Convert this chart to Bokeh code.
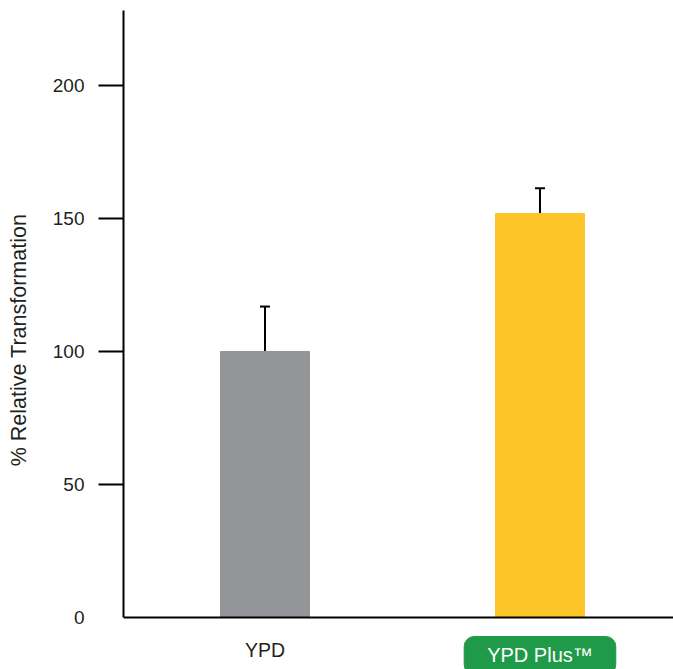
from bokeh.plotting import figure
from bokeh.models import ColumnDataSource, FixedTicker, Whisker, TeeHead, Label, Range1d, Span
from bokeh.embed import file_html
from bokeh.resources import INLINE

# ---- data ----
categories = ["YPD", "YPD Plus\u2122"]
positions = [0, 1]
values = [100.0, 151.9]
errors = [16.9, 9.5]
bar_colors = ["#939598", "#FDC527"]
y_ticks = [0, 50, 100, 150, 200]
y_tick_marks = [50, 100, 150, 200]

FONT = "Liberation Sans"
TXT = "#231F20"

src = ColumnDataSource(dict(
    x=positions,
    top=values,
    upper=[v + e for v, e in zip(values, errors)],
    color=bar_colors,
))

p = figure(width=673, height=669, output_backend="svg", toolbar_location=None,
           x_axis_type=None,
           x_range=Range1d(-0.5145, 1.4855), y_range=Range1d(-19.55, 228.2),
           min_border_left=123, min_border_top=10, min_border_bottom=0, min_border_right=0)
p.outline_line_color = None
p.xgrid.visible = False
p.ygrid.visible = False
p.background_fill_color = "white"

p.vbar(x="x", top="top", bottom=0, width=0.3236, color="color", source=src)

w = Whisker(source=src, base="x", lower="top", upper="upper", dimension="height",
            line_width=2, line_color="black",
            upper_head=TeeHead(size=10, line_width=2, line_color="black"), lower_head=None)
p.add_layout(w)

# x axis baseline
p.add_layout(Span(location=0, dimension="width", line_width=2, line_color="black"))

# y axis: labels from major ticks, tick marks from minor ticks (no mark at 0)
ya = p.yaxis[0]
ya.bounds = (0, p.y_range.end)
ya.ticker = FixedTicker(ticks=y_ticks, minor_ticks=y_tick_marks)
ya.major_tick_out = 0
ya.major_tick_in = 0
ya.major_tick_line_color = None
ya.minor_tick_out = 25
ya.minor_tick_in = 0
ya.minor_tick_line_width = 2
ya.minor_tick_line_color = "black"
ya.axis_line_width = 2
ya.axis_line_color = "black"
ya.major_label_standoff = 14
ya.major_label_text_font = FONT
ya.major_label_text_font_size = "19px"
ya.major_label_text_color = TXT
ya.axis_label = "% Relative Transformation"
ya.axis_label_text_font = FONT
ya.axis_label_text_font_size = "21.5px"
ya.axis_label_text_font_style = "normal"
ya.axis_label_text_color = TXT
ya.axis_label_standoff = 19

# category labels under the bars
p.add_layout(Label(x=positions[0], y=0, y_offset=-33, text=categories[0],
                   text_align="center", text_baseline="middle", text_font=FONT,
                   text_font_size="19.5px", text_color=TXT))
p.add_layout(Label(x=positions[1], y=0, y_offset=-38, text=categories[1],
                   text_align="center", text_baseline="middle", text_font=FONT,
                   text_font_size="20px", text_color="white",
                   background_fill_color="#1F9A48", border_line_color="#1F9A48",
                   padding=(23, 8), border_radius=10))

open("out.html", "w").write(file_html(p, INLINE))
